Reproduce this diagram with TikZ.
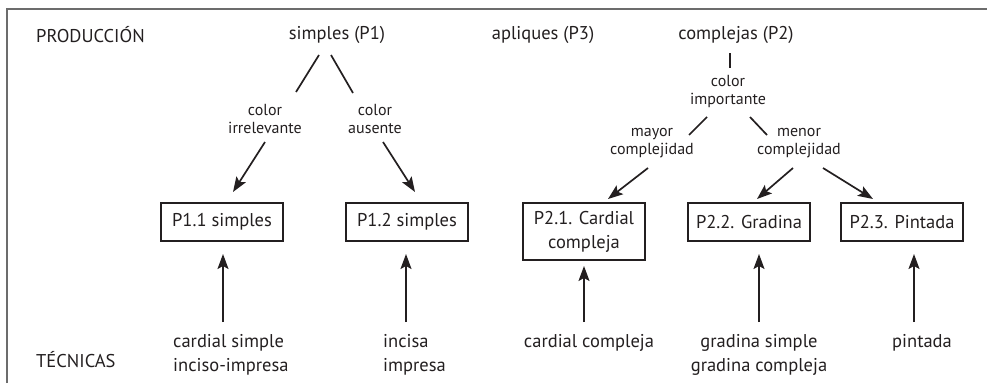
\documentclass[tikz,border=0pt]{standalone}
\usepackage{fontspec}
\setmainfont{PT Sans}
\usetikzlibrary{arrows.meta}
\definecolor{ink}{HTML}{231F20}
\tikzset{
  lbl/.style={inner sep=0pt, text=ink, font=\fontsize{18.5}{24}\selectfont},
  sml/.style={inner sep=0pt, text=ink, align=center, font=\fontsize{16}{18}\selectfont},
  boxn/.style={draw=ink, line width=1.7pt, inner sep=0pt, minimum width=122pt, minimum height=38pt, text=ink, align=center, font=\fontsize{18.5}{24}\selectfont},
  ln/.style={draw=ink, line width=1.7pt},
  arr/.style={draw=ink, line width=1.7pt, -{Stealth[length=15pt,width=11pt,inset=3pt]}},
  frame/.style={draw=gray!85!black, line width=1.4pt}
}
\begin{document}
\begin{tikzpicture}[x=1pt,y=-1pt]
\useasboundingbox (0,0) rectangle (987,383);
\draw[frame] (7,383) -- (7,9) -- (987,9);
% headings
\node[lbl, anchor=west] (prod) at (36,35) {PRODUCCIÓN};
\node[lbl, anchor=west] (tec) at (36,360) {TÉCNICAS};
\node[lbl] (p1) at (337,35) {simples (P1)};
\node[lbl] (p3) at (543,35) {apliques (P3)};
\node[lbl] (p2) at (736,35) {complejas (P2)};
% small labels
\node[sml] (ci) at (265,119) {color\\irrelevante};
\node[sml] (ca) at (375,119) {color\\ausente};
\node[sml] (cimp) at (728,91) {color\\importante};
\node[sml] (may) at (652,143) {mayor\\complejidad};
\node[sml] (men) at (799,143) {menor\\complejidad};
% boxes
\node[boxn] (b11) at (222,222) {P1.1 simples};
\node[boxn] (b12) at (407,222) {P1.2 simples};
\node[boxn, minimum height=57pt] (b21) at (584,231.5) {P2.1. Cardial\\compleja};
\node[boxn] (b22) at (749,222) {P2.2. Gradina};
\node[boxn] (b23) at (902,222) {P2.3. Pintada};
% techniques
\node[lbl, anchor=west, align=left] (t11) at (173,355) {cardial simple\\inciso-impresa};
\node[lbl, anchor=west, align=left] (t12) at (383,355) {incisa\\impresa};
\node[lbl] (t21) at (589,343) {cardial compleja};
\node[lbl, align=center] (t22) at (759,355) {gradina simple\\gradina compleja};
\node[lbl] (t23) at (922,343) {pintada};
% coordinates for connector ends
\coordinate (l1a) at (319,55); \coordinate (l1b) at (296,92);
\coordinate (l2a) at (331,55); \coordinate (l2b) at (353,93);
\coordinate (l3a) at (730,53); \coordinate (l3b) at (730,68);
\coordinate (l4a) at (707,117); \coordinate (l4b) at (689,135);
\coordinate (l5a) at (750,117); \coordinate (l5b) at (767,135);
\coordinate (a1a) at (265,142); \coordinate (a1b) at (233,192);
\coordinate (a2a) at (383,142); \coordinate (a2b) at (415,192);
\coordinate (a3a) at (648,168); \coordinate (a3b) at (608,199);
\coordinate (a4a) at (793,168); \coordinate (a4b) at (757,199);
\coordinate (a5a) at (823,168); \coordinate (a5b) at (873,199);
\coordinate (u1) at (223,322); \coordinate (u1t) at (223,254);
\coordinate (u2) at (406,322); \coordinate (u2t) at (406,254);
\coordinate (u3) at (584,322); \coordinate (u3t) at (584,266);
\coordinate (u4) at (759,322); \coordinate (u4t) at (759,254);
\coordinate (u5) at (914,322); \coordinate (u5t) at (914,254);
% connectors
\draw[ln] (l1a) -- (l1b);
\draw[ln] (l2a) -- (l2b);
\draw[ln] (l3a) -- (l3b);
\draw[ln] (l4a) -- (l4b);
\draw[ln] (l5a) -- (l5b);
\draw[arr] (a1a) -- (a1b);
\draw[arr] (a2a) -- (a2b);
\draw[arr] (a3a) -- (a3b);
\draw[arr] (a4a) -- (a4b);
\draw[arr] (a5a) -- (a5b);
\draw[arr] (u1) -- (u1t);
\draw[arr] (u2) -- (u2t);
\draw[arr] (u3) -- (u3t);
\draw[arr] (u4) -- (u4t);
\draw[arr] (u5) -- (u5t);
\end{tikzpicture}
\end{document}
